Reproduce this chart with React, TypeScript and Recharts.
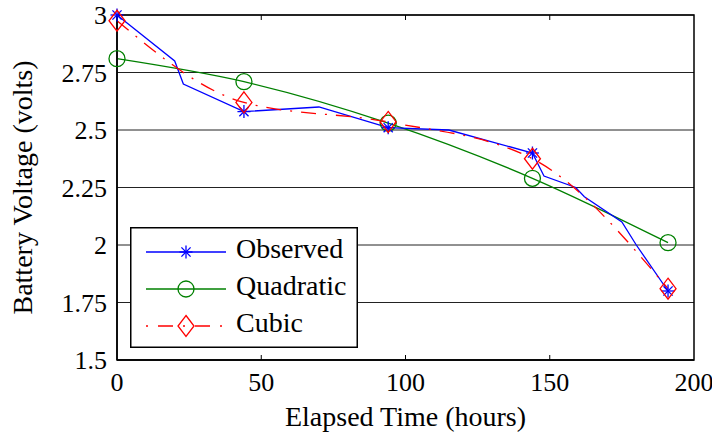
import {
  ComposedChart,
  Line,
  XAxis,
  YAxis,
  CartesianGrid,
  ReferenceArea,
  Legend,
} from "recharts";

// observed discharge readings (hours, volts)
const obsHours = [0, 20, 23, 44, 70, 94, 115, 144, 148, 159, 162, 175, 180, 191];
const obsVolts = [3.0, 2.8, 2.7, 2.58, 2.6, 2.51, 2.5, 2.4, 2.3, 2.25, 2.21, 2.1, 2.0, 1.8];

// fitted curves, sampled where the markers sit
const fitHours = [0, 44, 94, 144, 191];
const quadVolts = [2.81, 2.71, 2.53, 2.29, 2.01];
const cubicVolts = [2.975, 2.62, 2.535, 2.375, 1.81];

const xTicks = [0, 50, 100, 150, 200];
const yTicks = [1.5, 1.75, 2, 2.25, 2.5, 2.75, 3];
const seriesNames = ["Observed", "Quadratic", "Cubic"];

const observed = obsHours.map((t, i) => ({ t, v: obsVolts[i], mark: fitHours.includes(t) }));
const quadratic = fitHours.map((t, i) => ({ t, v: quadVolts[i] }));
const cubic = fitHours.map((t, i) => ({ t, v: cubicVolts[i] }));

const FONT = "'Liberation Serif', 'Times New Roman', serif";
const BLUE = "#0000ff";
const GREEN = "#008000";
const RED = "#ff0000";
const CUBIC_DASH = "15 9 2 9";
const PLOT_H = 345;

function Star({ cx, cy }: { cx: number; cy: number }) {
  const r = 6.5;
  const d = 4.6;
  return (
    <g stroke={BLUE} strokeWidth={1.3}>
      <line x1={cx - r} y1={cy} x2={cx + r} y2={cy} />
      <line x1={cx} y1={cy - r} x2={cx} y2={cy + r} />
      <line x1={cx - d} y1={cy - d} x2={cx + d} y2={cy + d} />
      <line x1={cx - d} y1={cy + d} x2={cx + d} y2={cy - d} />
    </g>
  );
}

function Ring({ cx, cy }: { cx: number; cy: number }) {
  return <circle cx={cx} cy={cy} r={8} fill="none" stroke={GREEN} strokeWidth={1.3} />;
}

function Diamond({ cx, cy }: { cx: number; cy: number }) {
  return (
    <path
      d={`M${cx} ${cy - 10.5}L${cx + 8} ${cy}L${cx} ${cy + 10.5}L${cx - 8} ${cy}Z`}
      fill="none"
      stroke={RED}
      strokeWidth={1.3}
    />
  );
}

function XTick({ x, y, payload }: any) {
  const inner = payload.value > 0 && payload.value < 200;
  return (
    <g>
      {inner && <line x1={x} x2={x} y1={y} y2={y - 5} stroke="#000" />}
      {inner && <line x1={x} x2={x} y1={y - PLOT_H} y2={y - PLOT_H + 5} stroke="#000" />}
      <text x={x} y={y + 31} textAnchor="middle" fontFamily={FONT} fontSize={26} fill="#000">
        {payload.value}
      </text>
    </g>
  );
}

function LegendBox() {
  const rows = [
    { name: seriesNames[0], color: BLUE, dash: undefined, Marker: Star },
    { name: seriesNames[1], color: GREEN, dash: undefined, Marker: Ring },
    { name: seriesNames[2], color: RED, dash: "2 10 15 10", Marker: Diamond },
  ];
  return (
    <svg width={228} height={121} style={{ display: "block" }}>
      <rect x={0.75} y={0.75} width={226.5} height={119.5} fill="#fff" stroke="#000" strokeWidth={1.5} />
      {rows.map((r, i) => {
        const y = 25 + i * 37;
        return (
          <g key={r.name}>
            <line x1={16} x2={96} y1={y} y2={y} stroke={r.color} strokeWidth={1.3} strokeDasharray={r.dash} />
            <r.Marker cx={56} cy={y} />
            <text x={106} y={y + 5.5} fontFamily={FONT} fontSize={28} fill="#000">
              {r.name}
            </text>
          </g>
        );
      })}
    </svg>
  );
}

export default function App() {
  return (
    <div style={{ position: "absolute", left: 0, top: 0, background: "#fff" }}>
      <ComposedChart width={712} height={438} margin={{ top: 15, right: 18, bottom: 0, left: 0 }}>
        <CartesianGrid vertical={false} stroke="#222" strokeWidth={1} />
        <XAxis
          dataKey="t"
          type="number"
          domain={[0, 200]}
          ticks={xTicks}
          height={78}
          tickSize={0}
          tickMargin={0}
          tickLine={false}
          axisLine={{ stroke: "#000", strokeWidth: 1.5 }}
          tick={<XTick />}
          label={{
            content: () => (
              <text x={405.5} y={426} textAnchor="middle" fontFamily={FONT} fontSize={28} fill="#000">
                Elapsed Time (hours)
              </text>
            ),
          }}
        />
        <YAxis
          type="number"
          domain={[1.5, 3]}
          ticks={yTicks}
          width={117}
          tickSize={0}
          tickMargin={10}
          tickLine={false}
          axisLine={{ stroke: "#000", strokeWidth: 1.5 }}
          tick={{ fill: "#000", fontSize: 26, fontFamily: FONT }}
          label={{
            content: () => (
              <text
                transform="translate(32 187.5) rotate(-90)"
                textAnchor="middle"
                fontFamily={FONT}
                fontSize={28}
                fill="#000"
              >
                Battery Voltage (volts)
              </text>
            ),
          }}
        />
        <ReferenceArea x1={0} x2={200} y1={1.5} y2={3} fill="none" stroke="#000" strokeWidth={1.5} />
        <Line
          data={quadratic}
          dataKey="v"
          name={seriesNames[1]}
          type="monotone"
          stroke={GREEN}
          strokeWidth={1.3}
          isAnimationActive={false}
          dot={(p: any) => <Ring key={`q${p.index}`} cx={p.cx} cy={p.cy} />}
        />
        <Line
          data={observed}
          dataKey="v"
          name={seriesNames[0]}
          type="linear"
          stroke={BLUE}
          strokeWidth={1.3}
          isAnimationActive={false}
          dot={(p: any) =>
            p.payload.mark ? <Star key={`o${p.index}`} cx={p.cx} cy={p.cy} /> : <g key={`o${p.index}`} />
          }
        />
        <Line
          data={cubic}
          dataKey="v"
          name={seriesNames[2]}
          type="monotone"
          stroke={RED}
          strokeWidth={1.3}
          strokeDasharray={CUBIC_DASH}
          isAnimationActive={false}
          dot={(p: any) => <Diamond key={`c${p.index}`} cx={p.cx} cy={p.cy} />}
        />
        <Legend
          layout="vertical"
          align="center"
          verticalAlign="middle"
          wrapperStyle={{ left: 130, top: 227, width: 228, height: 121, lineHeight: 0 }}
          content={() => <LegendBox />}
        />
      </ComposedChart>
    </div>
  );
}
